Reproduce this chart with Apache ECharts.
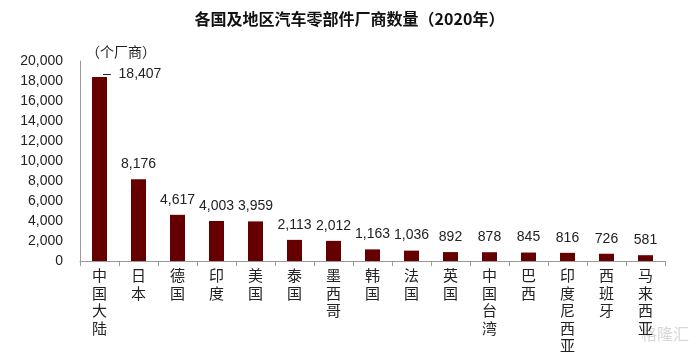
<!DOCTYPE html>
<html>
<head>
    <meta charset="utf-8">
    <title>各国及地区汽车零部件厂商数量</title>
    <script src="https://cdn.jsdelivr.net/npm/echarts@6/dist/echarts.min.js"></script>
</head>
<body style="margin:0">
    <div id="main" style="width:699px;height:352px;"></div>
    <script type="text/javascript">
        // 数据
        var regions = ['中国大陆', '日本', '德国', '印度', '美国', '泰国', '墨西哥', '韩国', '法国', '英国', '中国台湾', '巴西', '印度尼西亚', '西班牙', '马来西亚'];
        var counts = [18407, 8176, 4617, 4003, 3959, 2113, 2012, 1163, 1036, 892, 878, 845, 816, 726, 581];
        var yTicks = [0, 2000, 4000, 6000, 8000, 10000, 12000, 14000, 16000, 18000, 20000];

        var myChart = echarts.init(document.getElementById('main'));
        var fontCN = '"Noto Sans CJK SC", sans-serif';
        var fontNum = '"Liberation Sans", Arial, sans-serif';

        // 第一根柱子的标签放在右侧
        var seriesData = counts.map(function (v, i) {
            var item = { value: v };
            if (i === 0) {
                item.label = {
                    position: ['100%', 0],
                    align: 'left',
                    verticalAlign: 'middle',
                    offset: [-4, -3],
                    formatter: function (p) {
                        return '–  ' + p.value.toLocaleString('en-US');
                    }
                };
            }
            return item;
        });

        var option = {
            title: {
                text: '各国及地区汽车零部件厂商数量（2020年）',
                left: 'center',
                top: 6,
                textStyle: { fontFamily: fontCN, fontSize: 16, fontWeight: 'bold', color: '#111' }
            },
            grid: { left: 80, right: 34, top: 61, bottom: 91, containLabel: false, outerBoundsMode: 'none' },
            xAxis: {
                type: 'category',
                data: regions,
                axisLine: { lineStyle: { color: '#999' } },
                axisTick: { show: true, length: 5, lineStyle: { color: '#999' } },
                axisLabel: {
                    interval: 0,
                    fontFamily: fontCN,
                    fontSize: 15,
                    color: '#222',
                    lineHeight: 17.5,
                    margin: 6,
                    formatter: function (v) { return v.split('').join('\n'); }
                }
            },
            yAxis: {
                type: 'value',
                min: yTicks[0],
                max: yTicks[yTicks.length - 1],
                interval: 2000,
                name: '（个厂商）',
                nameLocation: 'end',
                nameGap: 2,
                nameTextStyle: { fontFamily: fontCN, fontSize: 14, color: '#222', align: 'left', padding: [0, 0, 0, 6] },
                axisLine: { show: true, lineStyle: { color: '#999' } },
                axisTick: { show: false },
                splitLine: { show: false },
                axisLabel: {
                    fontFamily: fontNum,
                    fontSize: 14,
                    color: '#222',
                    margin: 17,
                    formatter: function (v) { return v.toLocaleString('en-US'); }
                }
            },
            series: [{
                type: 'bar',
                data: seriesData,
                barWidth: 15,
                itemStyle: { color: '#660000' },
                label: {
                    show: true,
                    position: 'top',
                    distance: 8,
                    fontFamily: fontNum,
                    fontSize: 14,
                    color: '#222',
                    formatter: function (p) { return p.value.toLocaleString('en-US'); }
                }
            }],
            graphic: [{
                type: 'text',
                right: 10,
                bottom: 10,
                style: { text: '格隆汇', fontFamily: fontCN, fontSize: 16, fill: '#d8d8d8' }
            }]
        };

        myChart.setOption(option);
    </script>
</body>
</html>
